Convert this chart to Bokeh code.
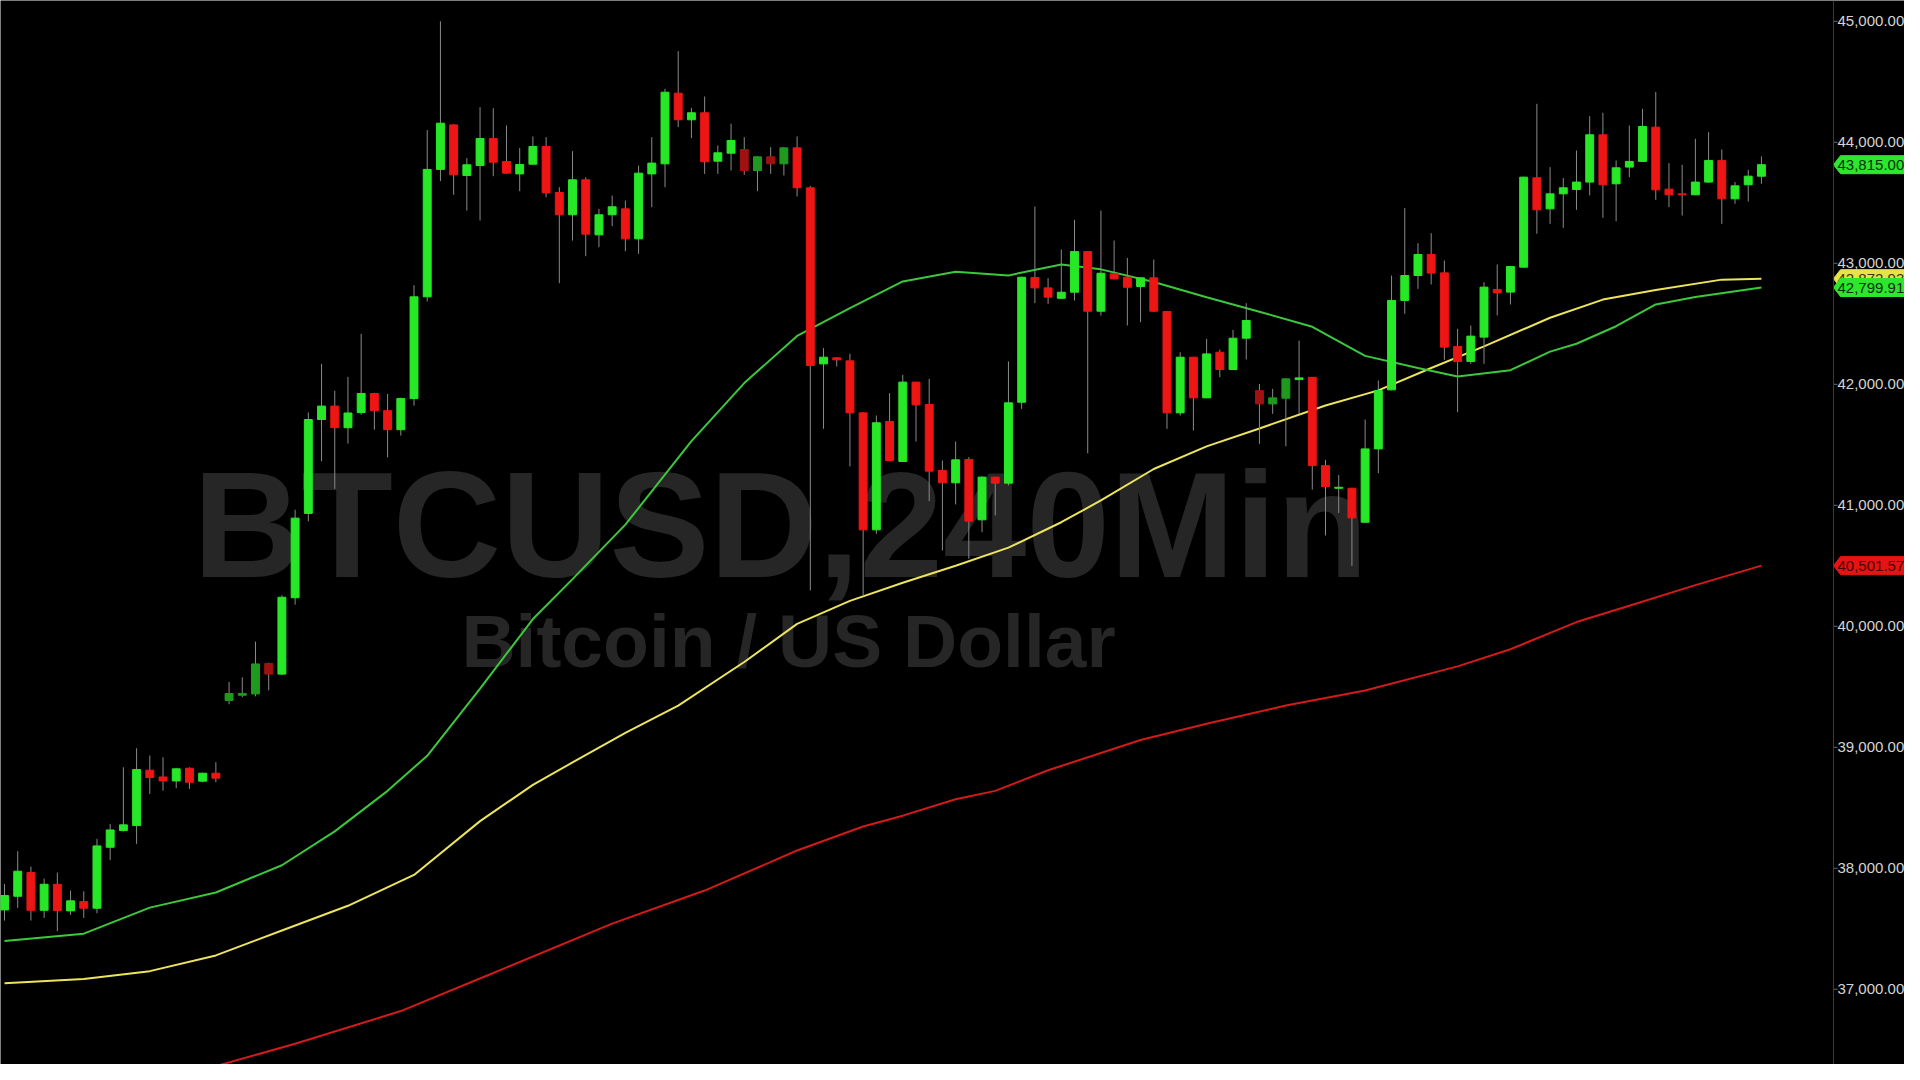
from bokeh.plotting import figure
from bokeh.models import Range1d, Span
from bokeh.embed import file_html
from bokeh.resources import INLINE
from bokeh.core.properties import value

# ---------------- data (4-hour BTCUSD bars) ----------------
opens = [37656, 37769, 37965, 37653, 37868, 37648, 37725, 37670, 38174, 38312,
         38353, 38811, 38755, 38722, 38827, 38720, 38786, 39387, 39430, 39441,
         39693, 39605, 40236, 40933, 41709, 41820, 41641, 41767, 41924, 41782,
         41625, 41882, 42723, 43776, 44144, 43726, 43808, 44031, 43841, 43739,
         43819, 43965, 43585, 43401, 43690, 43235, 43401, 43450, 43202, 43739,
         43822, 44406, 44186, 44244, 43844, 43910, 43940, 43767, 43880, 43822,
         43954, 43624, 42169, 42219, 42194, 41764, 40797, 41693, 41362, 42018,
         41833, 41288, 41186, 41379, 40880, 41233, 41183, 41852, 42882, 42797,
         42711, 42761, 43097, 42604, 42913, 42885, 42808, 42880, 42601, 41764,
         42224, 41888, 42265, 42122, 42381, 41948, 41838, 41885, 42039, 42058,
         41328, 41141, 41141, 40860, 41466, 41954, 42693, 42899, 43073, 42921,
         42313, 42189, 42390, 42784, 42762, 42968, 43707, 43450, 43574, 43610,
         43671, 44062, 43657, 43795, 43842, 44125, 43613, 43574, 43566, 43671,
         43850, 43533, 43649, 43720]
highs = [37871, 38141, 38014, 37915, 37965, 37816, 37810, 38243, 38367, 38835,
         38992, 38932, 38918, 38830, 38835, 38790, 38877, 39540, 39578, 39873,
         39700, 40256, 40963, 41767, 42169, 41947, 42061, 42417, 41930, 41920,
         41890, 42819, 44101, 45000, 44150, 43869, 44290, 44282, 44139, 43952,
         44048, 44042, 43629, 43927, 43712, 43450, 43560, 43519, 43808, 44042,
         44442, 44753, 44285, 44379, 43974, 44153, 44042, 43885, 43960, 43960,
         44048, 43640, 42299, 42222, 42252, 41770, 41742, 41927, 42078, 42020,
         42045, 41370, 41527, 41398, 41240, 41235, 42189, 42890, 43469, 42877,
         43114, 43359, 43100, 43436, 43188, 43045, 42882, 43031, 42605, 42265,
         42226, 42375, 42287, 42450, 42670, 42003, 41962, 42050, 42361, 42060,
         41375, 41251, 41145, 41709, 42031, 42899, 43456, 43167, 43249, 43023,
         42459, 42486, 42844, 42990, 42975, 43715, 44318, 43795, 43704, 43932,
         44216, 44244, 43850, 44139, 44277, 44415, 43828, 43814, 44029, 44084,
         43941, 43671, 43773, 43883]
lows = [37568, 37673, 37568, 37590, 37480, 37615, 37590, 37629, 38069, 38304,
        38202, 38615, 38642, 38662, 38656, 38711, 38711, 39356, 39414, 39421,
        39471, 39598, 40179, 40868, 41365, 41136, 41510, 41748, 41625, 41396,
        41576, 41824, 42685, 43680, 43566, 43436, 43354, 43720, 43740, 43596,
        43815, 43547, 42836, 43188, 43059, 43133, 43307, 43100, 43078, 43464,
        43629, 44125, 44034, 43739, 43739, 43767, 43731, 43596, 43739, 43726,
        43552, 40296, 41632, 42147, 41321, 40250, 40764, 41365, 41360, 41527,
        41034, 40626, 41007, 40558, 40778, 40916, 41164, 41797, 42670, 42665,
        42705, 42692, 41430, 42568, 42868, 42486, 42513, 42596, 41632, 41742,
        41618, 41885, 42059, 42120, 42205, 41508, 41756, 41488, 41755, 41130,
        40750, 40937, 40500, 40855, 41265, 41950, 42583, 42789, 42825, 42202,
        41770, 42169, 42169, 42569, 42660, 42965, 43244, 43326, 43293, 43442,
        43561, 43376, 43348, 43712, 43840, 43525, 43464, 43395, 43565, 43668,
        43326, 43492, 43511, 43657]
closes = [37775, 37976, 37653, 37868, 37651, 37731, 37670, 38185, 38317, 38359,
          38816, 38750, 38722, 38822, 38711, 38786, 38745, 39444, 39445, 39689,
          39605, 40240, 40894, 41709, 41820, 41641, 41763, 41924, 41782, 41625,
          41882, 42723, 43776, 44158, 43731, 43814, 44031, 43836, 43745, 43817,
          43965, 43582, 43401, 43690, 43241, 43401, 43467, 43202, 43745, 43828,
          44414, 44186, 44244, 43839, 43913, 44015, 43767, 43880, 43822, 43954,
          43624, 42155, 42224, 42202, 41764, 40797, 41682, 41370, 42018, 41830,
          41282, 41186, 41376, 40869, 41233, 41183, 41847, 42885, 42797, 42720,
          42761, 43097, 42604, 42918, 42871, 42802, 42880, 42604, 41764, 42224,
          41888, 42251, 42122, 42381, 42527, 41838, 41888, 42045, 42053, 41328,
          41155, 41149, 40896, 41466, 41948, 42693, 42899, 43073, 42919, 42307,
          42189, 42398, 42803, 42756, 42974, 43712, 43442, 43574, 43624, 43671,
          44062, 43649, 43789, 43842, 44131, 43607, 43566, 43566, 43671, 43850,
          43533, 43640, 43720, 43815]
dim_bars = [17, 18, 19, 20, 56, 57, 58, 59, 95, 96, 97]

# moving averages (bar index, value)
green_ma_idx = [0, 6, 11, 16, 21, 25, 29, 32, 36, 40, 43, 47, 52, 56, 60, 64, 68,
                72, 76, 80, 83, 87, 91, 95, 99, 103, 107, 110, 114, 117, 119, 122,
                125, 128, 133]
green_ma = [37400, 37460, 37675, 37800, 38025, 38305, 38640, 38930, 39485, 40060,
            40390, 40840, 41530, 42010, 42400, 42630, 42850, 42930, 42900, 42990,
            42950, 42845, 42720, 42600, 42475, 42235, 42135, 42065, 42117, 42270,
            42335, 42480, 42660, 42722, 42799.91]
yellow_ma_idx = [0, 6, 11, 16, 21, 26, 31, 36, 40, 43, 47, 51, 56, 60, 64, 68, 72,
                 76, 80, 83, 87, 91, 95, 100, 104, 108, 112, 117, 121, 125, 130, 133]
yellow_ma = [37050, 37085, 37150, 37280, 37486, 37690, 37945, 38390, 38690, 38875,
             39120, 39345, 39705, 40020, 40210, 40360, 40500, 40650, 40860, 41040,
             41300, 41487, 41635, 41825, 41950, 42135, 42313, 42550, 42700, 42780,
             42865, 42872.93]
red_ma_idx = [10, 12, 16, 22, 30, 37, 46, 53, 60, 65, 68, 72, 75, 79, 86, 91, 97,
              103, 110, 114, 119, 123, 128, 133]
red_ma = [36200, 36260, 36365, 36550, 36820, 37135, 37543, 37816, 38147, 38345,
          38435, 38570, 38640, 38810, 39060, 39195, 39345, 39470, 39669, 39810,
          40035, 40170, 40340, 40501.57]

tick_values = [37000, 38000, 39000, 40000, 41000, 42000, 43000, 44000, 45000]
tick_labels = ["37,000.00", "38,000.00", "39,000.00", "40,000.00", "41,000.00",
               "42,000.00", "43,000.00", "44,000.00", "45,000.00"]

tag_values = [42872.93, 42799.91, 40501.57, 43815.00]
tag_labels = ["42,872.93", "42,799.91", "40,501.57", "43,815.00"]
tag_fills = ["#e6e24a", "#2ee62e", "#e41414", "#2ee62e"]
tag_text_colors = ["#3a3600", "#063006", "#4a0000", "#063006"]

title_text = "BTCUSD,240Min"
subtitle_text = "Bitcoin / US Dollar"

# ---------------- layout (pixels of the 1920x1080 picture) ----------------
W, H = 1904, 1064
BAR0_PX = 4.0               # x pixel of the first bar
BAR_STEP = 13.21            # pixels per bar
TOP_PRICE = 45000.0
TOP_PX = 20.8               # y pixel of TOP_PRICE
PX_PER_PRICE = 0.121


def xi(px):
    return (px - BAR0_PX) / BAR_STEP


def pr(py):
    return TOP_PRICE - (py - TOP_PX) / PX_PER_PRICE


p = figure(width=W, height=H, output_backend="svg", toolbar_location=None,
           x_range=Range1d(xi(0), xi(W)),
           y_range=Range1d(pr(H), pr(0)),
           x_axis_location=None, y_axis_location=None,
           min_border=0, min_border_left=0, min_border_right=0,
           min_border_top=0, min_border_bottom=0)
p.background_fill_color = "#000000"
p.border_fill_color = "#000000"
p.outline_line_color = None
p.xgrid.visible = False
p.ygrid.visible = False

FONT = value("Liberation Sans")

# watermark
p.text(x=[xi(780)], y=[pr(524)], text=[title_text], text_font=FONT,
       text_font_size="150px", text_font_style="bold", text_color="#262626",
       text_align="center", text_baseline="alphabetic")
p.text(x=[xi(788)], y=[pr(640)], text=[subtitle_text], text_font=FONT,
       text_font_size="75px", text_font_style="bold", text_color="#262626",
       text_align="center", text_baseline="alphabetic")

# moving averages
p.line(red_ma_idx, red_ma, line_color="#d41a1a", line_width=2)
p.line(yellow_ma_idx, yellow_ma, line_color="#ece45a", line_width=2)
p.line(green_ma_idx, green_ma, line_color="#3cc83c", line_width=2)

# candles
idx = list(range(len(opens)))
fills = []
for i in idx:
    up = closes[i] >= opens[i]
    if i in dim_bars:
        fills.append("#1f9a1f" if up else "#a01212")
    else:
        fills.append("#27e827" if up else "#ee1515")
tops = [max(o, c) for o, c in zip(opens, closes)]
bots = [min(o, c) for o, c in zip(opens, closes)]

p.segment(x0=idx, x1=idx, y0=lows, y1=highs, line_color="#8a8a8a", line_width=1)
p.vbar(x=idx, width=0.6, top=tops, bottom=bots, fill_color=fills,
       line_color=fills, line_width=1)

# price scale on the right
AX_PX = 1833
LAB_PX = 1837
p.add_layout(Span(location=xi(AX_PX), dimension="height",
                  line_color="#3a3a3a", line_width=1))
p.segment(x0=[xi(AX_PX)] * len(tick_values), x1=[xi(AX_PX + 4)] * len(tick_values),
          y0=tick_values, y1=tick_values, line_color="#6a6a6a", line_width=1)

half = 9 / PX_PER_PRICE
for v, lab, fc, tc in zip(tag_values, tag_labels, tag_fills, tag_text_colors):
    p.patch(x=[xi(AX_PX), xi(AX_PX + 7), xi(W + 10), xi(W + 10), xi(AX_PX + 7)],
            y=[v, v + half, v + half, v - half, v - half],
            fill_color=fc, line_color=fc)
    p.text(x=[xi(LAB_PX)], y=[v], text=[lab], text_font=FONT, text_font_size="15px",
           text_color=tc, text_align="left", text_baseline="middle")

p.text(x=[xi(LAB_PX)] * len(tick_values), y=tick_values, text=tick_labels,
       text_font=FONT, text_font_size="15px", text_color="#d4d4d4",
       text_align="left", text_baseline="middle")

open("out.html", "w").write(file_html(p, INLINE))
